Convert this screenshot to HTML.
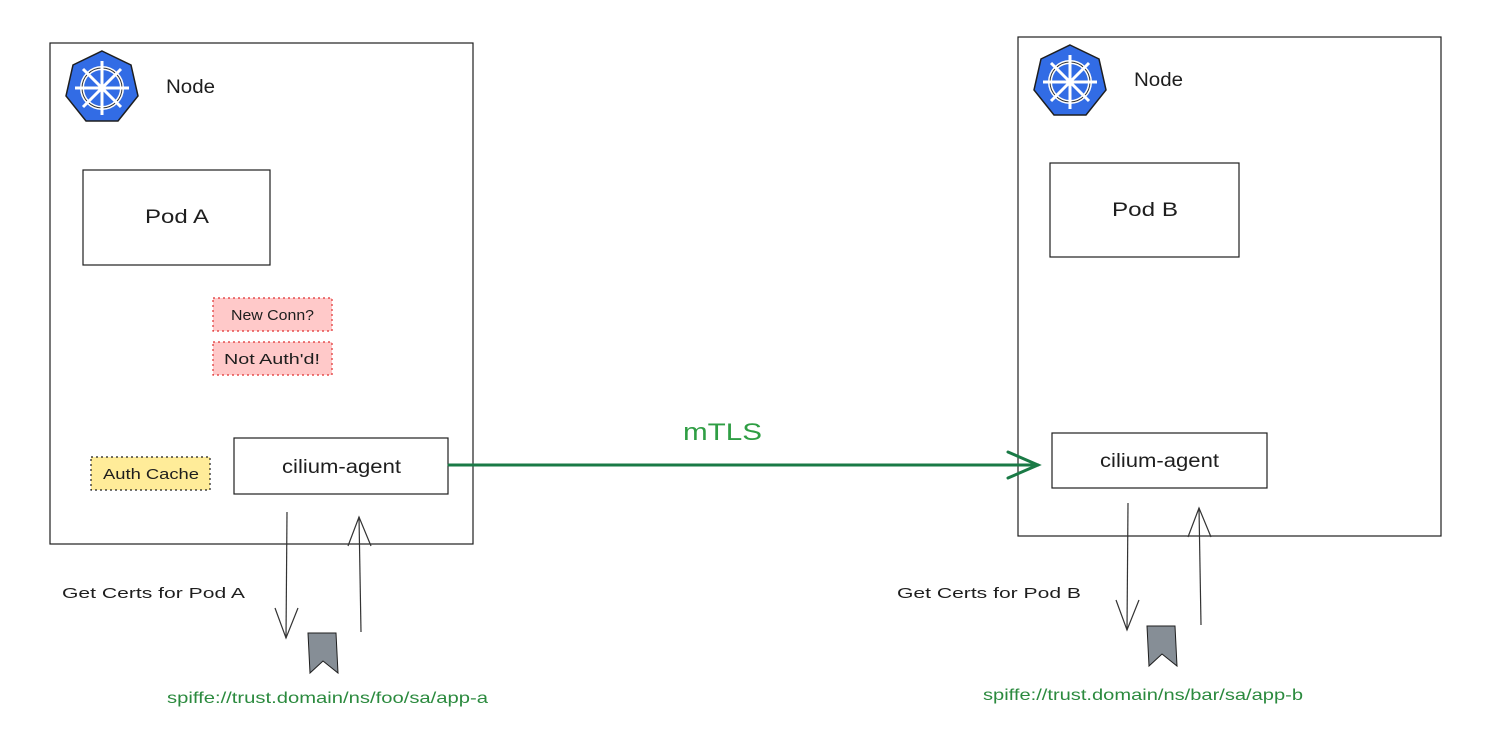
<!DOCTYPE html>
<html><head><meta charset="utf-8"><style>
html,body{margin:0;padding:0;background:#fff;}
svg{display:block;}
text{font-family:"Liberation Sans",sans-serif;}
</style></head><body>
<svg width="1500" height="750" viewBox="0 0 1500 750" xmlns="http://www.w3.org/2000/svg">
<defs>
<g id="k8s">
<polygon points="0,-37 29,-23 36,8 16,33 -16,33 -36,8 -29,-23" fill="#326ce5" stroke="#1e1e1e" stroke-width="1.5"/>
<circle r="20" fill="none" stroke="#fff" stroke-width="4"/>
<circle r="20" fill="none" stroke="#333" stroke-width="1"/>
<circle r="4" fill="#fff"/>
<g stroke="#fff" stroke-width="3">
<line x1="0" y1="-27" x2="0" y2="27"/><line x1="-27" y1="0" x2="27" y2="0"/>
<line x1="-19" y1="-19" x2="19" y2="19"/><line x1="-19" y1="19" x2="19" y2="-19"/>
</g>
</g>
<g id="bm"><polygon points="0,0 28,0 30,40 15,28 2,40" fill="#868e96" stroke="#1e1e1e" stroke-width="1"/></g>
</defs>
<g fill="none" stroke="#1e1e1e" stroke-width="1.2">
<rect x="50" y="43" width="423" height="501"/>
<rect x="83" y="170" width="187" height="95"/>
<rect x="234" y="438" width="214" height="56"/>
<rect x="1018" y="37" width="423" height="499"/>
<rect x="1050" y="163" width="189" height="94"/>
<rect x="1052" y="433" width="215" height="55"/>
</g>
<rect x="213" y="298" width="119" height="33" fill="#ffc9c9" stroke="#e03131" stroke-width="1.2" stroke-dasharray="2,3"/>
<rect x="213" y="342" width="119" height="33" fill="#ffc9c9" stroke="#e03131" stroke-width="1.2" stroke-dasharray="2,3"/>
<rect x="91" y="457" width="119" height="33" fill="#ffec99" stroke="#1e1e1e" stroke-width="1.2" stroke-dasharray="2,3"/>
<use href="#k8s" x="102" y="88"/>
<use href="#k8s" x="1070" y="82"/>
<g fill="#1e1e1e" font-size="19" lengthAdjust="spacingAndGlyphs">
<text x="166" y="93" textLength="49" lengthAdjust="spacingAndGlyphs">Node</text>
<text x="1134" y="86" textLength="49" lengthAdjust="spacingAndGlyphs">Node</text>
<text x="145" y="223" textLength="64" lengthAdjust="spacingAndGlyphs">Pod A</text>
<text x="1112" y="216" textLength="66" lengthAdjust="spacingAndGlyphs">Pod B</text>
<text x="282" y="473" textLength="119" lengthAdjust="spacingAndGlyphs">cilium-agent</text>
<text x="1100" y="467" textLength="119" lengthAdjust="spacingAndGlyphs">cilium-agent</text>
</g>
<g fill="#1e1e1e" font-size="15">
<text x="231" y="320" textLength="83" lengthAdjust="spacingAndGlyphs">New Conn?</text>
<text x="224" y="364" textLength="96" lengthAdjust="spacingAndGlyphs">Not Auth'd!</text>
<text x="103" y="479" textLength="96" lengthAdjust="spacingAndGlyphs">Auth Cache</text>
<text x="62" y="598" textLength="183" lengthAdjust="spacingAndGlyphs">Get Certs for Pod A</text>
<text x="897" y="598" textLength="184" lengthAdjust="spacingAndGlyphs">Get Certs for Pod B</text>
</g>
<g fill="#2b8a3e" font-size="16">
<text x="167" y="703" textLength="321" lengthAdjust="spacingAndGlyphs">spiffe://trust.domain/ns/foo/sa/app-a</text>
<text x="983" y="700" textLength="320" lengthAdjust="spacingAndGlyphs">spiffe://trust.domain/ns/bar/sa/app-b</text>
</g>
<text x="683" y="440" textLength="79" lengthAdjust="spacingAndGlyphs" fill="#2f9e44" font-size="24">mTLS</text>
<g stroke="#1a7a46" stroke-width="3" fill="none" stroke-linecap="round">
<line x1="449" y1="465" x2="1038" y2="465"/>
<polyline points="1008,452 1038,465 1008,478"/>
</g>
<g stroke="#333" stroke-width="1.2" fill="none">
<line x1="287" y1="512" x2="286" y2="638"/><polyline points="275,608 286,638 298,608"/>
<line x1="361" y1="632" x2="359" y2="517"/><polyline points="348,546 359,517 371,546"/>
<line x1="1128" y1="503" x2="1127" y2="630"/><polyline points="1116,600 1127,630 1139,600"/>
<line x1="1201" y1="625" x2="1199" y2="508"/><polyline points="1188,537 1199,508 1211,537"/>
</g>
<use href="#bm" x="308" y="633"/>
<use href="#bm" x="1147" y="626"/>
</svg>
</body></html>
